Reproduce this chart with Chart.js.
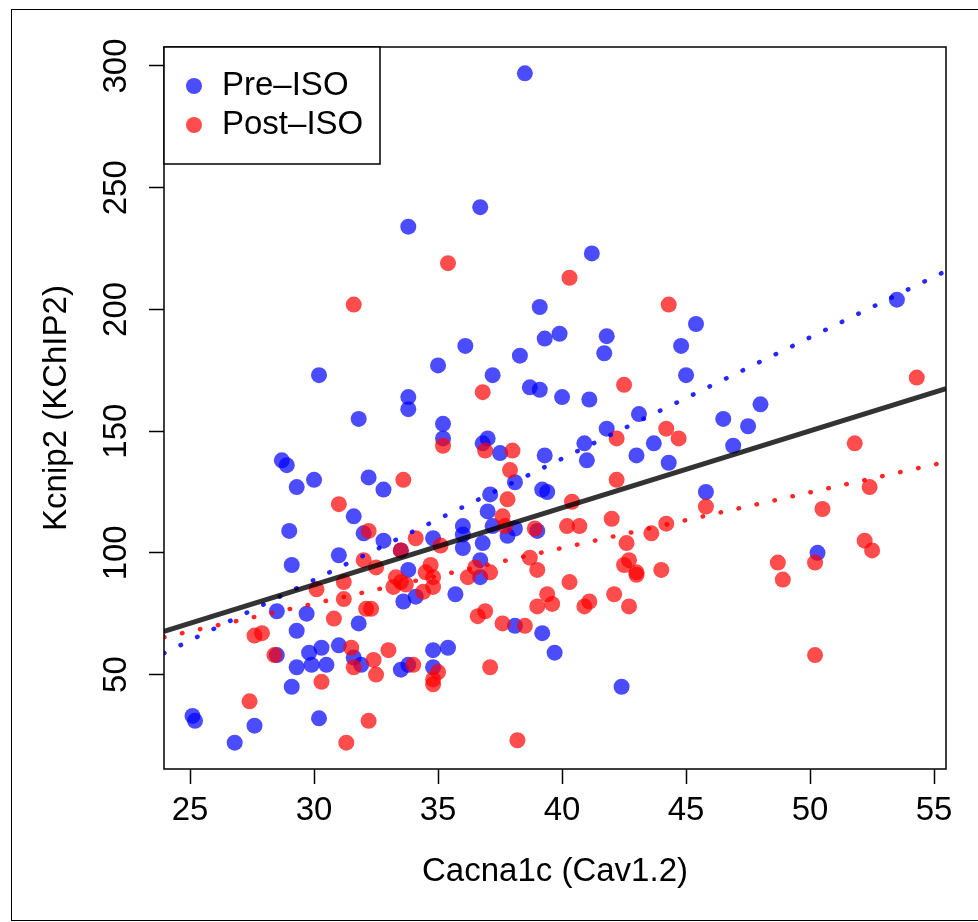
<!DOCTYPE html>
<html>
<head>
<meta charset="utf-8">
<script src="https://cdn.jsdelivr.net/npm/chart.js@4.4.0/dist/chart.umd.min.js"></script>
<style>
  html, body { margin: 0; padding: 0; background: #fff; }
  #wrap { position: relative; width: 978px; height: 922px; overflow: hidden; }
  #frame { position: absolute; left: 11px; top: 9px; width: 980px; height: 910px; border: 1.5px solid #000; }
  #myChart { position: absolute; left: 0; top: 0; }
</style>
</head>
<body>
<div id="wrap">
  <div id="frame"></div>
  <canvas id="myChart" width="978" height="922"></canvas>
</div>
<script>
// Pre-ISO (blue)
const preX = [25.1, 25.2, 26.8, 27.6, 28.5, 28.5, 28.7, 28.9, 29.0, 29.1,
  29.1, 29.3, 29.3, 29.3, 29.7, 29.8, 29.9, 30.0, 30.2, 30.2,
  30.3, 30.5, 31.0, 31.0, 31.6, 31.6, 31.8, 31.8, 31.9, 32.0,
  32.2, 32.8, 32.8, 33.5, 33.5, 33.6, 33.8, 33.8, 33.8, 33.8,
  33.8, 34.1, 34.8, 34.8, 34.8, 35.0, 35.2, 35.2, 35.4, 35.7,
  36.0, 36.0, 36.0, 36.1, 36.7, 36.7, 36.7, 36.8, 36.8, 37.0,
  37.0, 37.1, 37.2, 37.2, 37.5, 37.8, 38.1, 38.1, 38.1, 38.3,
  38.5, 38.7, 39.0, 39.1, 39.1, 39.2, 39.2, 39.3, 39.3, 39.4,
  39.7, 39.9, 40.0, 40.9, 41.0, 41.1, 41.2, 41.7, 41.8, 41.8,
  42.4, 43.0, 43.1, 43.7, 44.3, 44.8, 45.0, 45.4, 45.8, 46.5,
  46.9, 47.5, 48.0, 50.3, 53.5];
const preY = [33, 31, 22, 29, 76, 58, 138, 136, 109, 95,
  45, 127, 68, 53, 75, 59, 54, 130, 173, 32,
  61, 54, 99, 62, 115, 57, 155, 71, 54, 108,
  131, 126, 105, 101, 52, 80, 164, 159, 234, 93,
  54, 82, 106, 60, 53, 177, 153, 147, 61, 83,
  111, 107.5, 102, 185, 242, 97, 90, 145, 104, 147,
  117, 124, 173, 111, 141, 107, 110, 129, 70, 181,
  297, 168, 109, 201, 167, 126, 67, 188, 140, 125,
  59, 190, 164, 145, 138, 163, 223, 182, 189, 151,
  45, 140, 157, 145, 137, 185, 173, 194, 125, 155,
  144, 152, 161, 100, 204];

// Post-ISO (red)
const postX = [27.4, 27.6, 27.9, 28.4, 30.1, 30.3, 30.8, 31.0, 31.2, 31.2,
  31.3, 31.5, 31.6, 31.6, 32.0, 32.1, 32.3, 32.2, 32.2, 32.4,
  32.5, 32.5, 33.0, 33.2, 33.3, 33.5, 33.5, 33.6, 33.7, 34.0,
  34.1, 34.4, 34.5, 34.7, 34.8, 34.8, 34.8, 34.8, 35.0, 35.1,
  35.2, 35.4, 36.2, 36.5, 36.6, 36.8, 36.9, 36.9, 37.1, 37.1,
  37.6, 37.6, 37.7, 37.8, 37.9, 38.0, 38.2, 38.5, 38.7, 38.9,
  39.0, 39.0, 39.4, 39.6, 40.2, 40.3, 40.3, 40.4, 40.7, 40.9,
  41.1, 42.0, 42.1, 42.2, 42.2, 42.5, 42.5, 42.6, 42.7, 42.7,
  43.0, 43.0, 43.6, 44.0, 44.2, 44.3, 44.2, 44.7, 45.8, 48.7,
  48.9, 50.2, 50.2, 50.5, 51.8, 52.2, 52.4, 52.5, 54.3];
const postY = [39, 66, 67, 58, 85, 47, 73, 120, 88, 81,
  22, 61, 202, 53, 97, 77, 77, 109, 31, 56,
  94, 50, 60, 86, 90, 101, 88, 130, 87, 54,
  106, 84, 92, 95, 90, 86, 48, 46, 51, 103,
  144, 219, 90, 94, 74, 166, 76, 142, 92, 53,
  115, 71, 111, 122, 134, 142, 23, 70, 98, 110,
  93, 78, 83, 79, 111, 213, 88, 121, 111, 78,
  80, 114, 83, 147, 130, 169, 95, 104, 97, 78,
  92, 91, 108, 93, 112, 202, 151, 147, 119, 96,
  89, 96, 58, 118, 145, 105, 127, 101, 172];

const xTicks = [25, 30, 35, 40, 45, 50, 55];
const yTicks = [50, 100, 150, 200, 250, 300];

// fitted lines: [intercept, slope]
const fitPre = [-60.5, 4.98];
const fitPost = [10.6, 2.285];
const fitAll = [-8.1, 3.165];

const xMin = 23.95, xMax = 55.48, yMin = 11.2, yMax = 307.8;

function toPoints(xs, ys) {
  return xs.map((x, i) => ({ x: x, y: ys[i] }));
}
function lineEnds(f) {
  return [xMin, xMax].map((x) => ({ x: x, y: f[0] + f[1] * x }));
}

// box round the plot and the legend in its top left corner
const boxLegend = {
  id: "boxLegend",
  afterDraw(chart) {
    const ctx = chart.ctx, area = chart.chartArea;
    ctx.save();
    ctx.strokeStyle = "#000";
    ctx.lineWidth = 1.5;
    ctx.strokeRect(area.left, area.top, area.right - area.left, area.bottom - area.top);

    const items = chart.data.datasets.filter((d) => d.label);
    ctx.fillStyle = "#fff";
    ctx.fillRect(area.left, area.top, 216, 117);
    ctx.strokeRect(area.left, area.top, 216, 117);
    ctx.font = "33px 'Liberation Sans', Arial, sans-serif";
    ctx.textBaseline = "middle";
    items.forEach((d, i) => {
      const y = area.top + 39 + i * 39;
      ctx.fillStyle = d.backgroundColor;
      ctx.beginPath();
      ctx.arc(area.left + 30, y, 8, 0, Math.PI * 2);
      ctx.fill();
      ctx.fillStyle = "#000";
      ctx.fillText(d.label, area.left + 58, y);
    });
    ctx.restore();
  },
};

Chart.defaults.font.family = "'Liberation Sans', Arial, sans-serif";
Chart.defaults.font.size = 33;
Chart.defaults.color = "#000";

const tickGrid = { drawOnChartArea: false, tickLength: 15, tickColor: "#000", tickWidth: 1.5 };

const ctx = document.getElementById("myChart").getContext("2d");
const myChart = new Chart(ctx, {
  type: "scatter",
  data: {
    datasets: [
      {
        type: "line",
        data: lineEnds(fitAll),
        borderColor: "rgba(0, 0, 0, 0.8)",
        borderWidth: 5,
        pointRadius: 0,
        clip: 0,
        order: 0,
      },
      {
        type: "line",
        data: lineEnds(fitPre),
        borderColor: "rgba(0, 0, 255, 0.85)",
        borderWidth: 4.5,
        borderDash: [0.5, 17.9],
        borderCapStyle: "round",
        pointRadius: 0,
        clip: 0,
        order: 1,
      },
      {
        type: "line",
        data: lineEnds(fitPost),
        borderColor: "rgba(255, 0, 0, 0.85)",
        borderWidth: 4.5,
        borderDash: [0.5, 17.9],
        borderCapStyle: "round",
        pointRadius: 0,
        clip: 0,
        order: 1,
      },
      {
        label: "Pre\u2013ISO",
        data: toPoints(preX, preY),
        backgroundColor: "rgba(0, 0, 255, 0.7)",
        pointRadius: 8,
        pointBorderWidth: 0,
        order: 3,
      },
      {
        label: "Post\u2013ISO",
        data: toPoints(postX, postY),
        backgroundColor: "rgba(255, 0, 0, 0.7)",
        pointRadius: 8,
        pointBorderWidth: 0,
        order: 2,
      },
    ],
  },
  options: {
    responsive: false,
    animation: false,
    layout: { padding: { top: 47, right: 32, bottom: 0, left: 0 } },
    plugins: { legend: { display: false }, tooltip: { enabled: false } },
    scales: {
      x: {
        type: "linear",
        min: xMin,
        max: xMax,
        afterBuildTicks: (s) => { s.ticks = xTicks.map((v) => ({ value: v })); },
        afterFit: (s) => { s.height = 153; },
        grid: tickGrid,
        border: { display: false },
        ticks: { padding: 7, autoSkip: false, maxRotation: 0 },
        title: { display: true, text: "Cacna1c (Cav1.2)", padding: { top: 0, bottom: 30 } },
      },
      y: {
        type: "linear",
        min: yMin,
        max: yMax,
        afterBuildTicks: (s) => { s.ticks = yTicks.map((v) => ({ value: v })); },
        afterFit: (s) => { s.width = 164; },
        grid: tickGrid,
        border: { display: false },
        ticks: { padding: 4.5, autoSkip: false, minRotation: 90, maxRotation: 90, crossAlign: "center" },
        title: { display: true, text: "Kcnip2 (KChIP2)", padding: { top: 37, bottom: 0 } },
      },
    },
  },
  plugins: [boxLegend],
});
</script>
</body>
</html>
